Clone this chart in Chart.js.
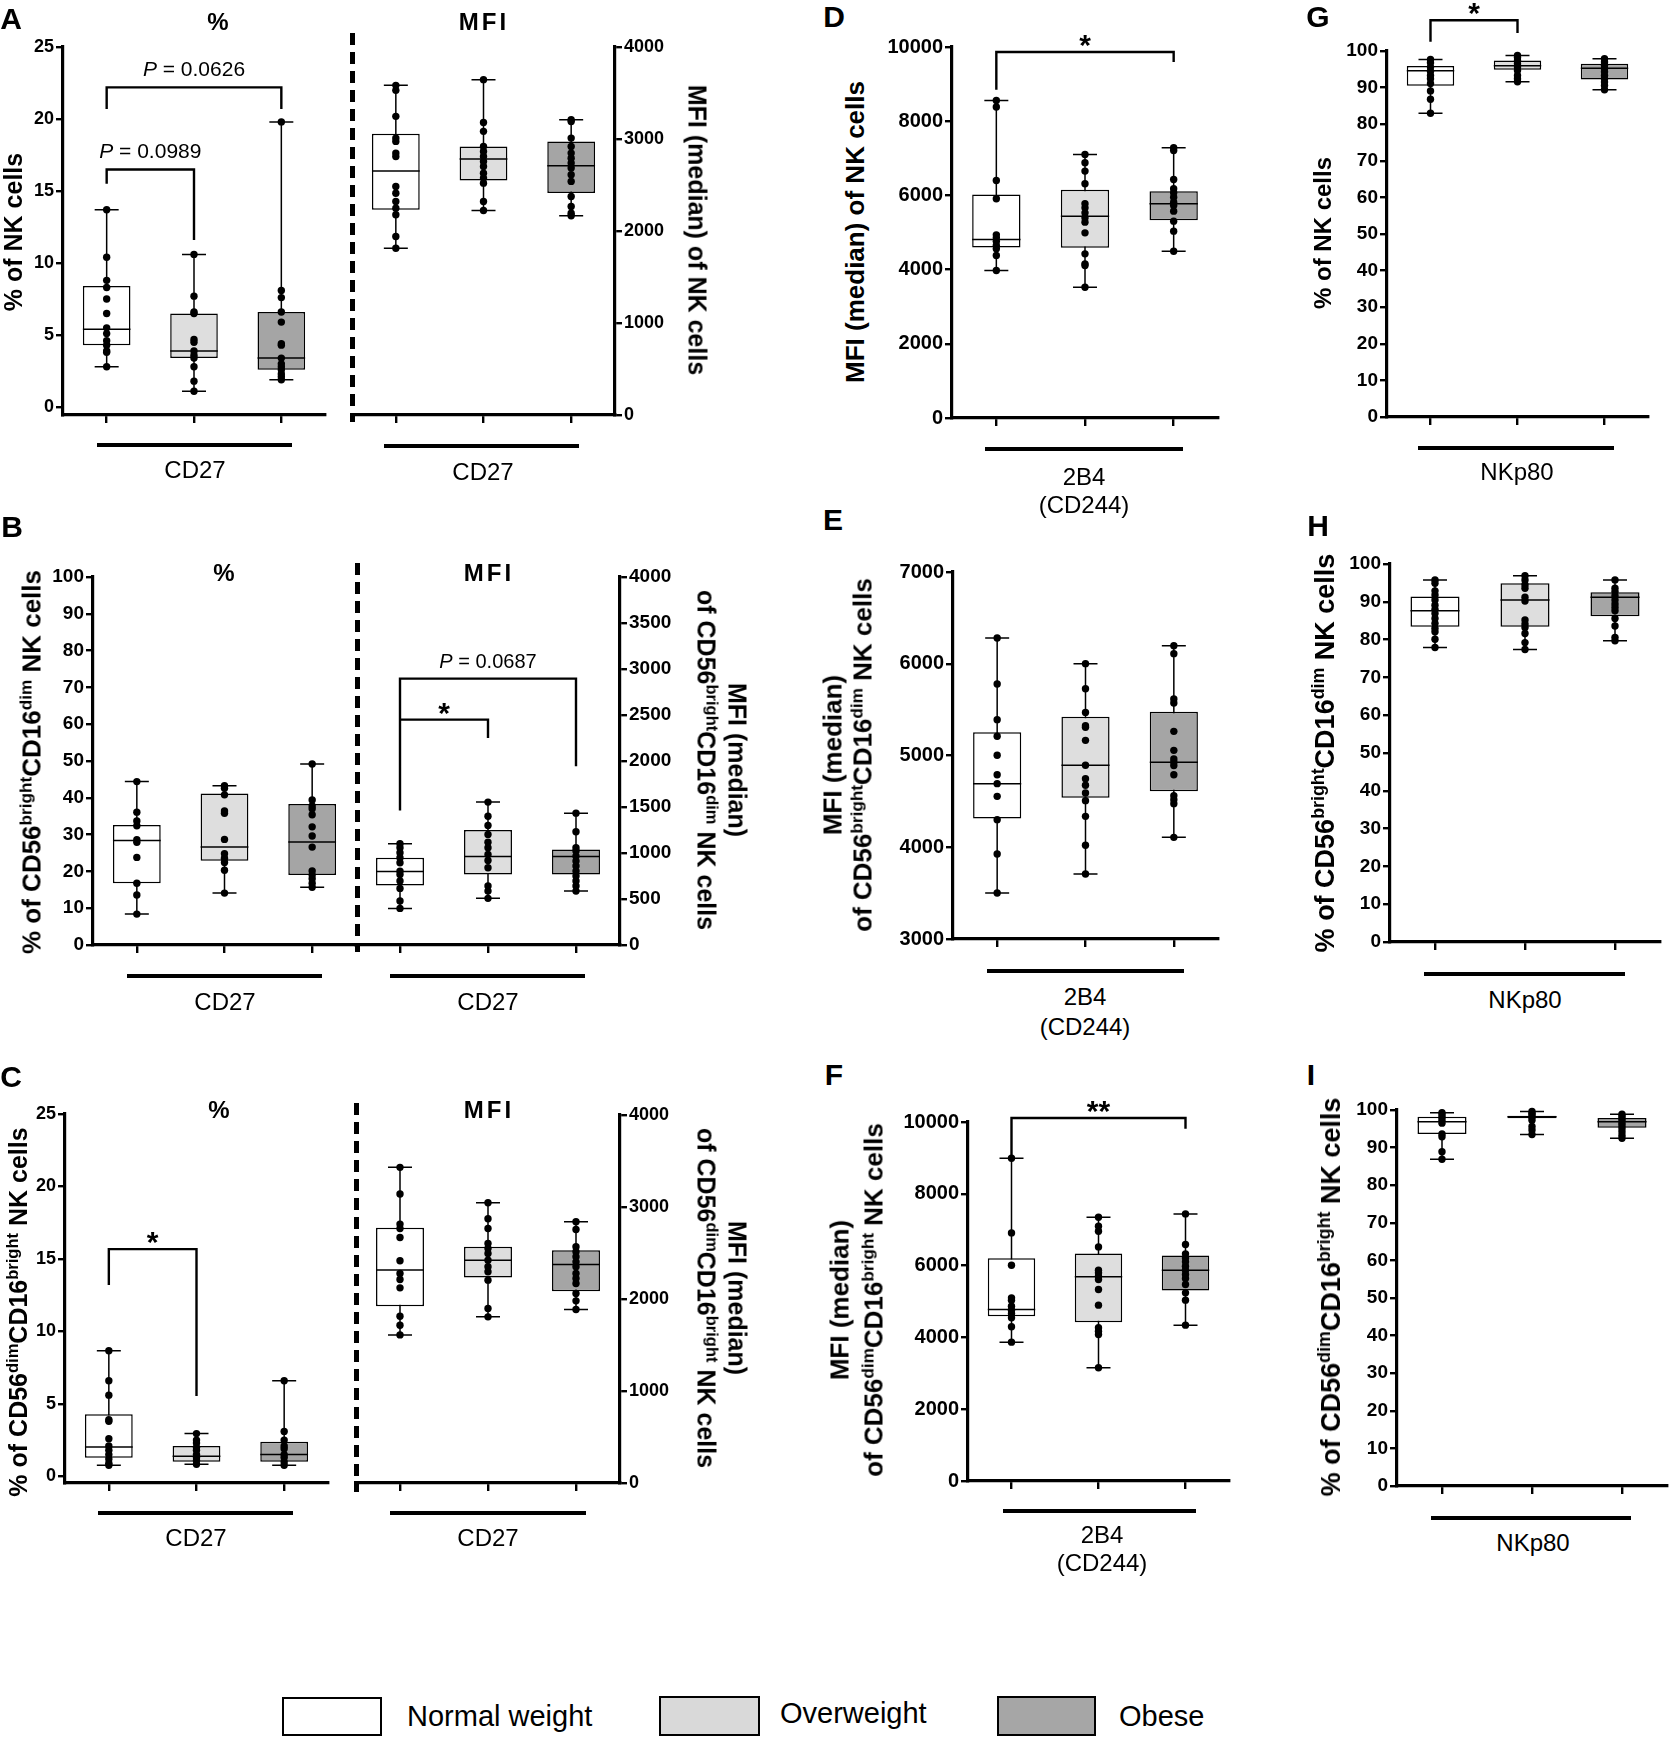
<!DOCTYPE html>
<html>
<head>
<meta charset="utf-8">
<script src="https://cdn.jsdelivr.net/npm/chart.js@4.4.1/dist/chart.umd.min.js"></script>
<style>
  body { margin: 0; background: #fff; }
  #page { position: relative; width: 1673px; height: 1752px; overflow: hidden; background: #fff;
          font-family: 'Liberation Sans', Arial, sans-serif; color: #000; }
  #page canvas { position: absolute; }
  .t { position: absolute; white-space: nowrap; text-align: center; transform-origin: center center; }
  .sup { font-size: 0.66em; position: relative; top: -0.55em; }
  .bar { position: absolute; background: #000; height: 4px; }
  .dash { position: absolute; width: 5px;
          background: repeating-linear-gradient(to bottom, #000 0 12px, transparent 12px 19px); }
  .key { position: absolute; border: 2px solid #000; box-sizing: border-box; }
</style>
</head>
<body>
<div id="page"></div>
<script>
// NK cell receptor box plots by BMI group

const FONT = "'Liberation Sans', Arial, sans-serif";
const groups = ['Normal weight', 'Overweight', 'Obese'];
const groupFills = ['#ffffff', '#dedede', '#a5a5a5'];

// Tick labels
const ticksPct25 = [0, 5, 10, 15, 20, 25];
const ticksPct100 = [0, 10, 20, 30, 40, 50, 60, 70, 80, 90, 100];
const ticksMfi4000 = [0, 1000, 2000, 3000, 4000];
const ticksMfi4000by500 = [0, 500, 1000, 1500, 2000, 2500, 3000, 3500, 4000];
const ticksMfi10000 = [0, 2000, 4000, 6000, 8000, 10000];
const ticksMfi3000to7000 = [3000, 4000, 5000, 6000, 7000];

// Box summaries are [min, q1, median, q3, max] per group
// Brackets are [from group, to group, bar level, left leg end, right leg end, label]

// A - CD27, % of NK cells
const aPctNormal = [13.7, 10.4, 8.8, 8.3, 7.5, 6.5, 5.5, 5.1, 4.6, 4.3, 3.9, 3.8, 2.8];
const aPctOver = [10.6, 7.7, 6.6, 6.5, 4.7, 4.5, 3.9, 3.6, 3.4, 2.8, 1.8, 1.1];
const aPctObese = [19.8, 8.1, 7.6, 6.6, 5.9, 4.4, 4.3, 3.4, 3.0, 2.8, 2.6, 2.3, 2.1, 1.9];
const aPctBoxes = [[2.8, 4.3, 5.4, 8.4, 13.7], [1.1, 3.4, 3.9, 6.5, 10.6], [1.9, 2.6, 3.4, 6.6, 19.8]];
const aPctBrackets = [[0, 2, 22.2, 20.7, 20.7, 'P = 0.0626'], [0, 1, 16.5, 15.5, 11.6, 'P = 0.0989']];

// A - CD27, MFI of NK cells
const aMfiNormal = [3583, 3529, 3246, 3010, 2974, 2847, 2810, 2484, 2411, 2321, 2248, 2176, 1940, 1813];
const aMfiOver = [3645, 3180, 3083, 2919, 2865, 2810, 2756, 2702, 2629, 2575, 2520, 2321, 2223];
const aMfiObese = [3209, 3191, 3010, 2919, 2847, 2792, 2738, 2684, 2611, 2539, 2375, 2266, 2194, 2165];
const aMfiBoxes = [[1813, 2230, 2651, 3057, 3583], [2223, 2549, 2782, 2919, 3645], [2165, 2412, 2709, 2974, 3209]];

// B - CD27 on CD56bright CD16dim, %
const bPctNormal = [44.4, 36.1, 33.7, 32.4, 28.6, 27.9, 23.8, 16.8, 13.6, 8.4];
const bPctOver = [43.3, 42.6, 40.8, 36.4, 35.8, 28.7, 24.8, 23.6, 22.4, 20.3, 14.1];
const bPctObese = [49.2, 39.4, 37.8, 37.0, 35.4, 32.1, 29.6, 26.6, 20.1, 19.0, 18.0, 16.8, 15.7];
const bPctBoxes = [[8.4, 16.8, 28.4, 32.6, 44.4], [14.1, 22.9, 26.6, 41.2, 43.3], [15.7, 19.0, 28.0, 38.3, 49.2]];

// B - CD27 on CD56bright CD16dim, MFI
const bMfiNormal = [1100, 1057, 1003, 948, 894, 803, 767, 695, 615, 478, 398];
const bMfiOver = [1553, 1400, 1299, 1202, 1118, 1057, 984, 919, 840, 641, 586, 507];
const bMfiObese = [1433, 1231, 1057, 1021, 966, 912, 858, 803, 749, 695, 641, 586];
const bMfiBoxes = [[398, 648, 800, 948, 1100], [507, 767, 963, 1249, 1553], [586, 767, 963, 1039, 1433]];
const bMfiBrackets = [[0, 2, 2895, 1462, 1944, 'P = 0.0687'], [0, 1, 2450, 2450, 2251, '*']];

// C - CD27 on CD56dim CD16bright, %
const cPctNormal = [8.66, 6.6, 5.6, 3.9, 3.8, 2.6, 2.1, 1.8, 1.5, 1.2, 0.9, 0.76];
const cPctOver = [2.95, 2.5, 2.3, 2.0, 1.8, 1.5, 1.3, 1.1, 0.83];
const cPctObese = [6.6, 3.1, 2.5, 2.1, 1.9, 1.5, 1.3, 1.0, 0.76];
const cPctBoxes = [[0.76, 1.29, 2.03, 4.28, 8.66], [0.83, 1.0, 1.38, 2.1, 2.95], [0.76, 1.0, 1.5, 2.38, 6.6]];
const cPctBrackets = [[0, 1, 15.68, 13.2, 5.55, '*']];

// C - CD27 on CD56dim CD16bright, MFI
const cMfiNormal = [3431, 3141, 2814, 2767, 2669, 2415, 2277, 2212, 2121, 1813, 1715, 1610];
const cMfiOver = [3046, 2872, 2767, 2604, 2549, 2495, 2422, 2350, 2296, 2205, 1897, 1806];
const cMfiObese = [2840, 2756, 2568, 2513, 2459, 2404, 2350, 2277, 2223, 2169, 2060, 1980, 1886];
const cMfiBoxes = [[1610, 1922, 2314, 2774, 3431], [1806, 2234, 2422, 2568, 3046], [1886, 2085, 2375, 2531, 2840]];

// D - 2B4 MFI of NK cells
const dNormal = [8561, 8381, 6403, 5908, 4937, 4856, 4766, 4649, 4559, 4380, 3975];
const dOver = [7104, 6880, 6655, 6313, 5773, 5665, 5530, 5396, 5279, 4991, 4424, 4155, 4110, 3525];
const dObese = [7284, 7212, 6430, 6178, 6070, 5953, 5818, 5728, 5575, 5306, 5036, 4496];
const dBoxes = [[3975, 4595, 4811, 6025, 8561], [3525, 4586, 5441, 6151, 7104], [4496, 5333, 5773, 6115, 7284]];
const dBrackets = [[0, 2, 9865, 8849, 9595, '*']];

// E - 2B4 MFI of CD56bright CD16dim
const eNormal = [6281, 5779, 5391, 5209, 5002, 4791, 4693, 4555, 4301, 3926, 3501];
const eOver = [6001, 5728, 5470, 5325, 5307, 5165, 4893, 4747, 4675, 4591, 4508, 4337, 4021, 3708];
const eObese = [6197, 6110, 5616, 5572, 5263, 5056, 4962, 4926, 4890, 4791, 4562, 4519, 4475, 4108];
const eBoxes = [[3501, 4312, 4693, 5253, 6281], [3708, 4540, 4893, 5423, 6001], [4108, 4610, 4926, 5478, 6197]];

// F - 2B4 MFI of CD56dim CD16bright
const fNormal = [8989, 6911, 6011, 5102, 5037, 4870, 4759, 4666, 4545, 4295, 3868];
const fOver = [7347, 7096, 6957, 6521, 5872, 5798, 5705, 5612, 5334, 4898, 4267, 4174, 4082, 3154];
const fObese = [7440, 6586, 6327, 6215, 6104, 5983, 5872, 5751, 5640, 5473, 5241, 5037, 4341];
const fBoxes = [[3868, 4592, 4777, 6206, 8989], [3154, 4425, 5686, 6336, 7347], [4341, 5306, 5872, 6280, 7440]];
const fBrackets = [[0, 2, 10111, 9045, 9814, '**']];

// G - NKp80 % of NK cells
const gNormal = [97.7, 96.8, 95.6, 94.5, 93.3, 92.4, 91.1, 89.1, 86.8, 83.0];
const gOver = [98.8, 98.2, 97.4, 96.5, 95.6, 94.7, 93.3, 92.4, 91.6];
const gObese = [97.9, 97.0, 96.1, 95.2, 94.3, 93.3, 92.4, 91.5, 90.6, 89.4];
const gBoxes = [[83.0, 90.5, 94.6, 95.9, 97.7], [91.6, 94.9, 96.0, 97.4, 98.8], [89.4, 92.2, 95.3, 96.5, 97.9]];
const gBrackets = [[0, 1, 108.4, 102.5, 104.9, '*']];

// H - NKp80 % of CD56bright CD16dim
const hNormal = [95.8, 94.9, 92.9, 91.8, 90.5, 89.1, 88.0, 86.9, 85.6, 84.3, 83.0, 82.1, 80.1, 77.9];
const hOver = [96.9, 95.8, 94.5, 93.6, 91.2, 90.2, 85.2, 84.1, 83.2, 81.6, 79.2, 77.4];
const hObese = [95.8, 93.6, 92.7, 91.6, 90.5, 89.4, 88.5, 87.6, 85.6, 83.6, 80.6, 79.7];
const hBoxes = [[77.9, 83.4, 87.6, 91.4, 95.8], [77.4, 83.4, 90.5, 94.9, 96.9], [79.7, 86.2, 91.2, 92.5, 95.8]];

// I - NKp80 % of CD56dim CD16bright
const iNormal = [99.3, 98.7, 98.0, 97.3, 96.5, 93.6, 92.9, 88.9, 86.9];
const iOver = [99.6, 99.1, 98.7, 98.0, 97.3, 95.6, 94.7, 93.5];
const iObese = [98.9, 98.4, 97.8, 97.2, 96.5, 95.8, 95.1, 94.2, 93.3, 92.5];
const iBoxes = [[86.9, 93.6, 96.9, 98.2, 99.3], [93.5, 97.8, 98.2, 98.5, 99.6], [92.5, 95.3, 96.9, 97.9, 98.9]];

const page = document.getElementById('page');
Chart.defaults.font.family = FONT;
Chart.defaults.color = '#000';

const PAD_TOP = 70;
const AXIS_W = 80;
const AXIS_H = 30;
const PAD_SIDE = 8;
const CAP = 12;

// Whiskers, medians and significance brackets, all placed through the chart's scales
function boxPlotPlugin(p) {
  return {
    id: 'boxPlot',
    beforeDatasetsDraw(chart) {
      const { ctx, scales: { x, y } } = chart;
      ctx.save();
      ctx.strokeStyle = '#000';
      ctx.lineWidth = 1.5;
      p.boxes.forEach((b, i) => {
        const px = x.getPixelForValue(i);
        const lo = y.getPixelForValue(b[0]);
        const hi = y.getPixelForValue(b[4]);
        ctx.beginPath();
        ctx.moveTo(px, lo); ctx.lineTo(px, hi);
        ctx.moveTo(px - CAP, lo); ctx.lineTo(px + CAP, lo);
        ctx.moveTo(px - CAP, hi); ctx.lineTo(px + CAP, hi);
        ctx.stroke();
      });
      ctx.restore();
    },
    afterDatasetDraw(chart, args) {
      if (args.index !== 0) return;
      const { ctx, scales: { y } } = chart;
      ctx.save();
      ctx.strokeStyle = '#000';
      ctx.lineWidth = 1.5;
      chart.getDatasetMeta(0).data.forEach((bar, i) => {
        const py = y.getPixelForValue(p.boxes[i][2]);
        ctx.beginPath();
        ctx.moveTo(bar.x - bar.width / 2, py);
        ctx.lineTo(bar.x + bar.width / 2, py);
        ctx.stroke();
      });
      ctx.restore();
    },
    afterDraw(chart) {
      if (!p.brackets) return;
      const { ctx, scales: { x, y } } = chart;
      ctx.save();
      ctx.strokeStyle = '#000';
      ctx.fillStyle = '#000';
      ctx.lineWidth = 2.4;
      p.brackets.forEach(([g1, g2, level, legL, legR, label]) => {
        const x1 = x.getPixelForValue(g1);
        const x2 = x.getPixelForValue(g2);
        const yt = y.getPixelForValue(level);
        ctx.beginPath();
        ctx.moveTo(x1, y.getPixelForValue(legL));
        ctx.lineTo(x1, yt);
        ctx.lineTo(x2, yt);
        ctx.lineTo(x2, y.getPixelForValue(legR));
        ctx.stroke();
        const mid = (x1 + x2) / 2;
        if (label.startsWith('P')) {
          const fs = p.pFont;
          const rest = label.slice(1);
          ctx.textBaseline = 'middle';
          ctx.textAlign = 'left';
          ctx.font = `italic ${fs}px ${FONT}`;
          const wP = ctx.measureText('P').width;
          ctx.font = `${fs}px ${FONT}`;
          const wR = ctx.measureText(rest).width;
          const sx = mid - (wP + wR) / 2;
          const ty = yt - 0.8 * fs;
          ctx.font = `italic ${fs}px ${FONT}`;
          ctx.fillText('P', sx, ty);
          ctx.font = `${fs}px ${FONT}`;
          ctx.fillText(rest, sx + wP, ty);
        } else {
          ctx.font = `bold 30px ${FONT}`;
          ctx.textAlign = 'center';
          ctx.textBaseline = 'alphabetic';
          ctx.fillText(label, mid, yt + 3);
        }
      });
      ctx.restore();
    }
  };
}

function makePanel(p) {
  const onRight = p.side === 'right';
  const w = Math.round((p.right - p.left) + AXIS_W + PAD_SIDE);
  const h = Math.round(PAD_TOP + (p.bottom - p.top) + AXIS_H);
  const cv = document.createElement('canvas');
  cv.width = w;
  cv.height = h;
  cv.style.width = w + 'px';
  cv.style.height = h + 'px';
  cv.style.left = (onRight ? p.left - PAD_SIDE : p.left - AXIS_W) + 'px';
  cv.style.top = (p.top - PAD_TOP) + 'px';
  page.appendChild(cv);

  const dots = [];
  p.points.forEach((vals, g) => vals.forEach(v => dots.push({ x: groups[g], y: v })));

  new Chart(cv, {
    type: 'bar',
    data: {
      labels: groups,
      datasets: [{
        type: 'bar',
        data: p.boxes.map(b => [b[1], b[3]]),
        backgroundColor: groupFills,
        borderColor: '#000',
        borderWidth: 1.5,
        borderSkipped: false,
        barPercentage: 0.545,
        categoryPercentage: 1,
        order: 2
      }, {
        type: 'scatter',
        data: dots,
        pointRadius: 3.7,
        pointBackgroundColor: '#000',
        pointBorderWidth: 0,
        backgroundColor: '#000',
        borderColor: '#000',
        clip: false,
        order: 1
      }]
    },
    options: {
      responsive: false,
      animation: false,
      events: [],
      layout: {
        padding: { top: PAD_TOP, bottom: 0, left: onRight ? PAD_SIDE : 0, right: onRight ? 0 : PAD_SIDE }
      },
      plugins: { legend: { display: false }, tooltip: { enabled: false } },
      scales: {
        x: {
          type: 'category',
          offset: true,
          grid: { display: true, drawOnChartArea: false, drawTicks: true, tickLength: 8,
                  color: '#000', lineWidth: 2.4, offset: false },
          border: { display: true, color: '#000', width: 3.2 },
          ticks: { display: false },
          afterFit(s) { s.height = AXIS_H; }
        },
        y: {
          type: 'linear',
          position: p.side,
          min: p.min,
          max: p.max,
          afterBuildTicks(s) { s.ticks = p.ticks.map(v => ({ value: v })); },
          grid: { display: true, drawOnChartArea: false, drawTicks: true, tickLength: 7,
                  color: '#000', lineWidth: 2.4 },
          border: { display: true, color: '#000', width: 3.2 },
          ticks: {
            color: '#000',
            padding: 2,
            font: { family: FONT, size: p.tickFont, weight: 'bold' },
            callback: v => String(v)
          },
          afterFit(s) { s.width = AXIS_W; }
        }
      }
    },
    plugins: [boxPlotPlugin(p)]
  });
}

// Text helpers
function txt(html, x, y, size, o = {}) {
  const d = document.createElement('div');
  d.className = 't';
  d.innerHTML = html;
  d.style.left = x + 'px';
  d.style.top = y + 'px';
  d.style.fontSize = size + 'px';
  d.style.fontWeight = o.bold ? 'bold' : 'normal';
  d.style.lineHeight = (o.lh || size) + 'px';
  if (o.ls) d.style.letterSpacing = o.ls + 'px';
  d.style.transform = o.left
    ? 'translate(0,-50%)'
    : `translate(-50%,-50%) rotate(${o.rot || 0}deg)`;
  page.appendChild(d);
}
function groupBar(x1, x2, y) {
  const d = document.createElement('div');
  d.className = 'bar';
  d.style.left = x1 + 'px';
  d.style.width = (x2 - x1) + 'px';
  d.style.top = (y - 2) + 'px';
  page.appendChild(d);
}
function dashLine(x, y1, y2) {
  const d = document.createElement('div');
  d.className = 'dash';
  d.style.left = (x - 2.5) + 'px';
  d.style.top = y1 + 'px';
  d.style.height = (y2 - y1) + 'px';
  page.appendChild(d);
}
function key(x1, y1, x2, y2, fill) {
  const d = document.createElement('div');
  d.className = 'key';
  d.style.left = x1 + 'px';
  d.style.top = y1 + 'px';
  d.style.width = (x2 - x1) + 'px';
  d.style.height = (y2 - y1) + 'px';
  d.style.background = fill;
  page.appendChild(d);
}

const sup = s => `<span class="sup">${s}</span>`;
const brightDim = `CD56${sup('bright')}CD16${sup('dim')}`;
const dimBright = `CD56${sup('dim')}CD16${sup('bright')}`;

// Panels
makePanel({ left: 63, right: 325, top: 47.3, bottom: 415, min: -0.55, max: 25, ticks: ticksPct25,
  side: 'left', tickFont: 18, points: [aPctNormal, aPctOver, aPctObese], boxes: aPctBoxes,
  brackets: aPctBrackets, pFont: 21 });
makePanel({ left: 352, right: 615, top: 47.3, bottom: 415, min: 0, max: 4000, ticks: ticksMfi4000,
  side: 'right', tickFont: 18, points: [aMfiNormal, aMfiOver, aMfiObese], boxes: aMfiBoxes });
makePanel({ left: 93, right: 356, top: 577.3, bottom: 945, min: 0, max: 100, ticks: ticksPct100,
  side: 'left', tickFont: 19, points: [bPctNormal, bPctOver, bPctObese], boxes: bPctBoxes });
makePanel({ left: 356, right: 620, top: 577.3, bottom: 945.7, min: 0, max: 4000, ticks: ticksMfi4000by500,
  side: 'right', tickFont: 19, points: [bMfiNormal, bMfiOver, bMfiObese], boxes: bMfiBoxes,
  brackets: bMfiBrackets, pFont: 20 });
makePanel({ left: 65, right: 328, top: 1114, bottom: 1482.7, min: -0.46, max: 25, ticks: ticksPct25,
  side: 'left', tickFont: 18, points: [cPctNormal, cPctOver, cPctObese], boxes: cPctBoxes,
  brackets: cPctBrackets, pFont: 20 });
makePanel({ left: 356, right: 620, top: 1115, bottom: 1482.7, min: 0, max: 4000, ticks: ticksMfi4000,
  side: 'right', tickFont: 18, points: [cMfiNormal, cMfiOver, cMfiObese], boxes: cMfiBoxes });
makePanel({ left: 952, right: 1218, top: 46.7, bottom: 417.3, min: 0, max: 10000, ticks: ticksMfi10000,
  side: 'left', tickFont: 20, points: [dNormal, dOver, dObese], boxes: dBoxes, brackets: dBrackets });
makePanel({ left: 953, right: 1218, top: 572.3, bottom: 939.3, min: 3000, max: 7000, ticks: ticksMfi3000to7000,
  side: 'left', tickFont: 20, points: [eNormal, eOver, eObese], boxes: eBoxes });
makePanel({ left: 968, right: 1229, top: 1122.3, bottom: 1481.7, min: 0, max: 10000, ticks: ticksMfi10000,
  side: 'left', tickFont: 20, points: [fNormal, fOver, fObese], boxes: fBoxes, brackets: fBrackets });
makePanel({ left: 1387, right: 1648, top: 50.7, bottom: 416.5, min: 0, max: 100, ticks: ticksPct100,
  side: 'left', tickFont: 19, points: [gNormal, gOver, gObese], boxes: gBoxes, brackets: gBrackets });
makePanel({ left: 1390, right: 1660, top: 564, bottom: 942, min: 0, max: 100, ticks: ticksPct100,
  side: 'left', tickFont: 19, points: [hNormal, hOver, hObese], boxes: hBoxes });
makePanel({ left: 1397, right: 1667, top: 1110, bottom: 1486, min: 0, max: 100, ticks: ticksPct100,
  side: 'left', tickFont: 19, points: [iNormal, iOver, iObese], boxes: iBoxes });

// Panel letters
[['A', 11, 19], ['B', 12, 527], ['C', 11, 1077], ['D', 834, 17], ['E', 833, 520], ['F', 834, 1075],
 ['G', 1318, 17], ['H', 1318, 526], ['I', 1311, 1075]].forEach(([l, x, y]) => txt(l, x, y, 30, { bold: true }));

// Sub-titles and separators
txt('%', 218, 22, 24, { bold: true });
txt('MFI', 484, 22, 24, { bold: true, ls: 3 });
txt('%', 224, 573, 24, { bold: true });
txt('MFI', 489, 573, 24, { bold: true, ls: 3 });
txt('%', 219, 1110, 24, { bold: true });
txt('MFI', 489, 1110, 24, { bold: true, ls: 3 });
dashLine(352, 33, 422);
dashLine(357, 563, 952);
dashLine(356, 1103, 1492);

// Axis titles
txt('% of NK cells', 13, 232, 25, { bold: true, rot: -90 });
txt('MFI (median) of NK cells', 697, 230, 25, { bold: true, rot: 90 });
txt(`% of ${brightDim} NK cells`, 33, 762, 26, { bold: true, rot: -90 });
txt(`MFI (median)<br>of ${brightDim} NK cells`, 720, 760, 25, { bold: true, rot: 90, lh: 31 });
txt(`% of ${dimBright} NK cells`, 20, 1312, 25, { bold: true, rot: -90 });
txt(`MFI (median)<br>of ${dimBright} NK cells`, 720, 1298, 25, { bold: true, rot: 90, lh: 31 });
txt('MFI (median) of NK cells', 855, 232, 26, { bold: true, rot: -90 });
txt(`MFI (median)<br>of ${brightDim} NK cells`, 849, 755, 26, { bold: true, rot: -90, lh: 30 });
txt(`MFI (median)<br>of ${dimBright} NK cells`, 858, 1300, 26, { bold: true, rot: -90, lh: 34 });
txt('% of NK cells', 1323, 233, 24, { bold: true, rot: -90 });
txt(`% of ${brightDim} NK cells`, 1327, 753, 27, { bold: true, rot: -90 });
txt(`% of ${dimBright} NK cells`, 1333, 1297, 27, { bold: true, rot: -90 });

// Marker group labels under the x axes
groupBar(97, 292, 445);   txt('CD27', 195, 470, 24);
groupBar(384, 579, 446);  txt('CD27', 483, 472, 24);
groupBar(127, 322, 976);  txt('CD27', 225, 1002, 24);
groupBar(390, 585, 976);  txt('CD27', 488, 1002, 24);
groupBar(98, 293, 1513);  txt('CD27', 196, 1538, 24);
groupBar(390, 586, 1513); txt('CD27', 488, 1538, 24);
groupBar(985, 1183, 449); txt('2B4', 1084, 477, 24); txt('(CD244)', 1084, 505, 24);
groupBar(987, 1184, 971); txt('2B4', 1085, 997, 24); txt('(CD244)', 1085, 1027, 24);
groupBar(1003, 1196, 1511); txt('2B4', 1102, 1535, 24); txt('(CD244)', 1102, 1563, 24);
groupBar(1418, 1614, 448);  txt('NKp80', 1517, 472, 24);
groupBar(1424, 1625, 974);  txt('NKp80', 1525, 1000, 24);
groupBar(1431, 1631, 1518); txt('NKp80', 1533, 1543, 24);

// Legend
key(282, 1697, 382, 1736, groupFills[0]);
txt(groups[0], 407, 1716, 29, { left: true });
key(659, 1696, 760, 1736, '#d9d9d9');
txt(groups[1], 780, 1713, 29, { left: true });
key(997, 1696, 1096, 1736, '#a6a6a6');
txt(groups[2], 1119, 1716, 29, { left: true });
</script>
</body>
</html>
